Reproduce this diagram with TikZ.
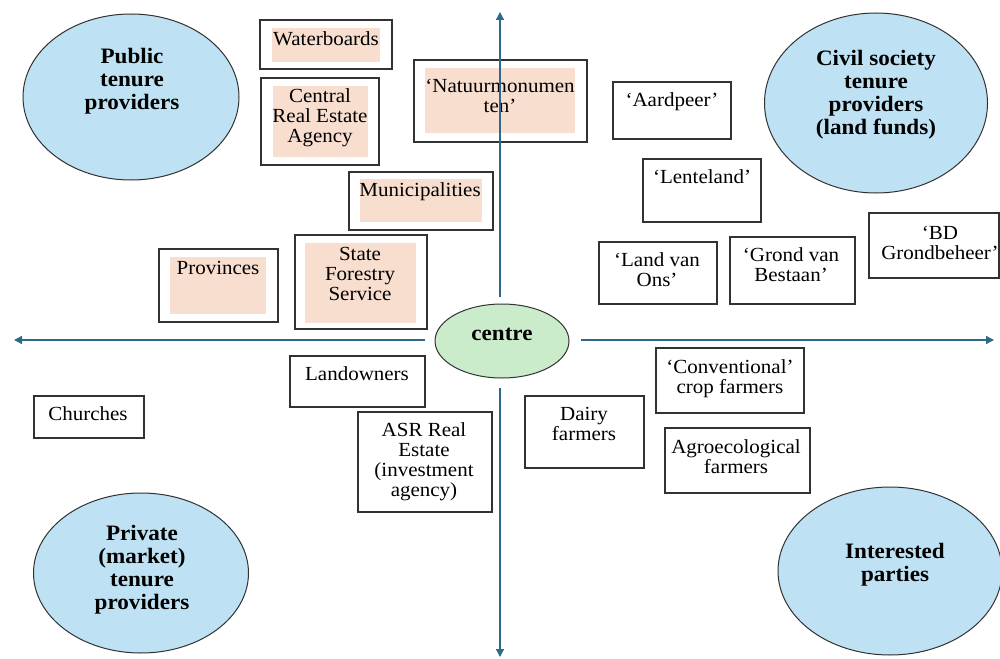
\documentclass[tikz,border=0pt]{standalone}
\usepackage{fontspec}
\setmainfont[FakeStretch=1.05]{Liberation Serif}
\usetikzlibrary{arrows.meta,shapes.geometric,calc}
\definecolor{axiscol}{RGB}{45,105,140}
\definecolor{ellblue}{RGB}{190,226,243}
\definecolor{ellgreen}{RGB}{203,236,203}
\definecolor{pinkfill}{RGB}{248,222,207}
\definecolor{edgecol}{RGB}{50,50,50}
\begin{document}
\begin{tikzpicture}[x=1pt,y=-1pt,
  frame/.style={draw=edgecol, line width=1.2pt, rectangle, inner sep=0pt},
  fillin/.style={fill=pinkfill, rectangle, inner sep=0pt},
  lbl/.style={anchor=north, inner sep=0pt, align=center, font=\fontsize{20}{20}\selectfont},
  blbl/.style={anchor=north, inner sep=0pt, align=center, font=\fontsize{22}{23}\selectfont\bfseries},
  oval/.style={ellipse, draw=edgecol, line width=1pt, fill=ellblue, inner sep=0pt},
  axis/.style={draw=axiscol, line width=1.3pt, -{Triangle[width=8pt,length=8pt]}}]
\fill[white] (0,0) rectangle (1000,658);
\useasboundingbox (0,0) rectangle (1000,658);

% ellipses
\node[oval, minimum width=216, minimum height=166] (pub) at (131,97) {};
\node[oval, minimum width=223, minimum height=180] (civ) at (876,103) {};
\node[oval, minimum width=215, minimum height=160] (priv) at (141,573) {};
\node[oval, minimum width=224, minimum height=168] (int) at (890,571) {};
\node[ellipse, draw=edgecol, line width=1pt, fill=ellgreen, inner sep=0pt, minimum width=134, minimum height=74] (centre) at (502,341) {};

\node[blbl] (pubt) at (132,48) {Public\\tenure\\providers};
\node[blbl] (civt) at (876,50) {Civil society\\tenure\\providers\\(land funds)};
\node[blbl] (privt) at (142,525) {Private\\(market)\\tenure\\providers};
\node[blbl] (intt) at (895,543) {Interested\\parties};
\node[anchor=base, inner sep=0pt, font=\fontsize{22}{23}\selectfont\bfseries] (centret) at (502,340) {centre};

% pink-filled boxes
\node[fillin, minimum width=108, minimum height=34] (waterin) at (326,45) {};
\node[frame, minimum width=132, minimum height=49] (water) at (326,44.5) {};
\node[lbl] (watert) at (326,31) {Waterboards};

\node[fillin, minimum width=95, minimum height=71] (creain) at (320.5,121.5) {};
\node[frame, minimum width=118, minimum height=87] (crea) at (320,121.5) {};
\node[lbl] (creat) at (320,88) {Central\\Real Estate\\Agency};

\node[fillin, minimum width=150, minimum height=65] (natin) at (500,100.5) {};
\node[frame, minimum width=173, minimum height=82] (nat) at (500.5,101) {};
\node[lbl] (natt) at (500,79) {‘Natuurmonumen\\ten’};

\node[fillin, minimum width=122, minimum height=43] (muniin) at (421,200.5) {};
\node[frame, minimum width=144, minimum height=58] (muni) at (421,201) {};
\node[lbl] (munit) at (420,182) {Municipalities};

\node[fillin, minimum width=96, minimum height=57] (provin) at (218,285.5) {};
\node[frame, minimum width=119, minimum height=73] (prov) at (218.5,285.5) {};
\node[lbl] (provt) at (218,261) {Provinces};

\node[fillin, minimum width=111, minimum height=80] (sfsin) at (360.5,283) {};
\node[frame, minimum width=132, minimum height=94] (sfs) at (361,282) {};
\node[lbl] (sfst) at (360,247) {State\\Forestry\\Service};

% white boxes, upper right
\node[frame, minimum width=118, minimum height=57] (aard) at (672,110.5) {};
\node[lbl] (aardt) at (672,92) {‘Aardpeer’};
\node[frame, minimum width=118, minimum height=63] (lente) at (702,190.5) {};
\node[lbl] (lentet) at (702,169) {‘Lenteland’};
\node[frame, minimum width=118, minimum height=62] (lvo) at (658,273) {};
\node[lbl] (lvot) at (657,252) {‘Land van\\Ons’};
\node[frame, minimum width=125, minimum height=67] (gvb) at (792.5,270.5) {};
\node[lbl] (gvbt) at (791,247) {‘Grond van\\Bestaan’};
\node[frame, minimum width=130, minimum height=65] (bd) at (934,245.5) {};
\node[lbl] (bdt) at (940,226) {‘BD\\Grondbeheer’};

% lower left
\node[frame, minimum width=135, minimum height=51] (land) at (357.5,381.5) {};
\node[lbl] (landt) at (357,366) {Landowners};
\node[frame, minimum width=110, minimum height=42] (church) at (89,417) {};
\node[lbl] (churcht) at (88,406) {Churches};
\node[frame, minimum width=134, minimum height=100] (asr) at (425,462) {};
\node[lbl] (asrt) at (424,422) {ASR Real\\Estate\\(investment\\agency)};

% lower right
\node[frame, minimum width=148, minimum height=65] (conv) at (730,380.5) {};
\node[lbl] (convt) at (730,359) {‘Conventional’\\crop farmers};
\node[frame, minimum width=119, minimum height=72] (dairy) at (584.5,432) {};
\node[lbl] (dairyt) at (584,407) {Dairy\\farmers};
\node[frame, minimum width=145, minimum height=65] (agro) at (737.5,460.5) {};
\node[lbl] (agrot) at (736,439) {Agroecological\\farmers};

% axes
\coordinate (ytop) at (500,12);
\coordinate (ybot) at (500,657);
\coordinate (xleft) at (14,340);
\coordinate (xright) at (994,340);
\draw[axis] ($(ytop |- centre.north)+(0,-7)$) -- (ytop);
\draw[axis] ($(ybot |- centre.south)+(0,9)$) -- (ybot);
\draw[axis] ($(xleft -| centre.west)+(-10,0)$) -- (xleft);
\draw[axis] ($(xright -| centre.east)+(11,0)$) -- (xright);
\end{tikzpicture}
\end{document}
